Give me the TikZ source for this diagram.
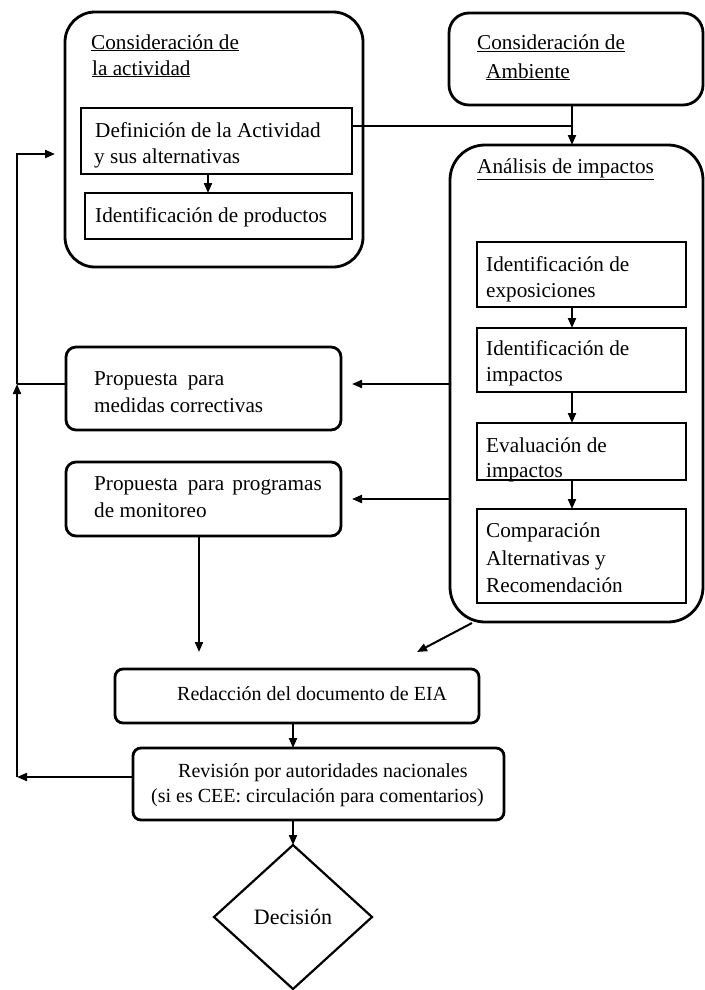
\documentclass[tikz,border=0pt]{standalone}
\usepackage{fontspec}
\setmainfont{Liberation Serif}
\usetikzlibrary{arrows.meta,shapes.geometric}
\begin{document}
\begin{tikzpicture}[x=1pt,y=-1pt,
  every node/.style={font=\fontsize{21.2}{26}\selectfont},
  bigbox/.style={draw,line width=2.8pt,rounded corners=#1,inner sep=0pt,outer sep=0pt},
  bigbox/.default=30pt,
  inbox/.style={draw,line width=1.3pt,inner sep=0pt,outer sep=0pt},
  txt/.style={anchor=base west,inner sep=0pt},
  smtxt/.style={anchor=base west,inner sep=0pt,font=\fontsize{20}{25}\selectfont},
  arr/.style={line width=2pt,-{Triangle[length=10pt,width=8pt]}},
  ln/.style={line width=1.5pt}]
\useasboundingbox (0,0) rectangle (704,990);

% boxes
\node[bigbox=30pt,minimum width=298pt,minimum height=255pt] (A) at (214,139.5) {};
\node[inbox,minimum width=271pt,minimum height=66pt] (A1) at (216.5,141) {};
\node[inbox,minimum width=267pt,minimum height=46pt] (A2) at (218.5,216) {};
\node[bigbox=20pt,minimum width=254pt,minimum height=92pt] (B) at (576,59) {};
\node[bigbox=35pt,minimum width=253pt,minimum height=477pt] (C) at (576.5,383.5) {};
\node[inbox,minimum width=209pt,minimum height=65pt] (C1) at (581.5,274.5) {};
\node[inbox,minimum width=209pt,minimum height=64pt] (C2) at (581.5,360) {};
\node[inbox,minimum width=209pt,minimum height=57pt] (C3) at (581.5,451.5) {};
\node[inbox,minimum width=209pt,minimum height=94pt] (C4) at (581.5,556) {};
\node[bigbox=10pt,minimum width=275pt,minimum height=83pt] (P1) at (203.5,388.5) {};
\node[bigbox=10pt,minimum width=275pt,minimum height=74pt] (P2) at (203.5,499) {};
\node[bigbox=8pt,minimum width=364pt,minimum height=54pt] (R) at (297,696) {};
\node[bigbox=8pt,minimum width=371pt,minimum height=72pt] (V) at (318.5,784) {};
\node[draw,diamond,line width=2.2pt,minimum width=158pt,minimum height=144pt,inner sep=0pt,outer sep=0pt,font=\fontsize{22}{26}\selectfont] (D) at (293,917) {Decisión};

% texts
\node[txt] (tA1) at (91,49) {\underline{Consideración de}};
\node[txt] (tA2) at (92,75) {\underline{la actividad}};
\node[txt] (tA1a) at (95,137) {Definición de la Actividad};
\node[txt] (tA1b) at (94,163) {y sus alternativas};
\node[txt] (tA2a) at (95,222) {Identificación de productos};
\node[txt] (tB1) at (477,50) {\underline{Consideración de}};
\node[txt] (tB2) at (486,78) {\underline{Ambiente}};
\node[txt] (tC) at (477,173) {\underline{Análisis de impactos}};
\node[txt] (tC1a) at (486,271) {Identificación de};
\node[txt] (tC1b) at (486,297) {exposiciones};
\node[txt] (tC2a) at (486,355) {Identificación de};
\node[txt] (tC2b) at (486,381) {impactos};
\node[txt] (tC3a) at (486,452) {Evaluación de};
\node[txt] (tC3b) at (486,477) {impactos};
\node[txt] (tC4a) at (486,537) {Comparación};
\node[txt] (tC4b) at (486,565) {Alternativas y};
\node[txt] (tC4c) at (486,592) {Recomendación};
\node[txt] (tP1a) at (94,385) {Propuesta\hspace{10pt}para};
\node[txt] (tP1b) at (94,412) {medidas correctivas};
\node[txt] (tP2a) at (94,490) {Propuesta\hspace{10pt}para\hspace{8pt}programas};
\node[txt] (tP2b) at (94,517) {de monitoreo};
\node[smtxt] (tR) at (177,700) {Redacción del documento de EIA};
\node[smtxt] (tV1) at (178,777) {Revisión por autoridades nacionales};
\node[smtxt] (tV2) at (151,802) {(si es CEE: circulación para comentarios)};

% coordinates
\coordinate (j1) at (572,126);
\coordinate (t0) at (55,154);
\coordinate (fb3) at (17,154);
\coordinate (fb1) at (17,384);
\coordinate (fb2) at (17,777);
\coordinate (t1) at (352,384);
\coordinate (t2) at (352,499);
\coordinate (t3) at (199,652);
\coordinate (c1) at (472,623);
\coordinate (t4) at (417,652);

% connectors
\draw[arr] (A1.south -| 208,0) -- (A2.north -| 208,0);
\draw[ln] (A1.east |- j1) -- (j1);
\draw[arr] (B.south -| j1) -- (C.north -| j1);
\draw[arr] (C1.south -| j1) -- (C2.north -| j1);
\draw[arr] (C2.south -| j1) -- (C3.north -| j1);
\draw[arr] (C3.south -| j1) -- (C4.north -| j1);
\draw[arr] (C.west |- t1) -- (t1);
\draw[arr] (C.west |- t2) -- (t2);
\draw[ln] (P1.west |- fb1) -- (fb1);
\draw[arr] (V.west |- fb2) -- (fb2);
\draw[arr] (fb2) -- (fb1);
\draw[arr] (fb1) -- (fb3) -- (t0);
\draw[arr] (P2.south -| t3) -- (t3);
\draw[arr] (c1) -- (t4);
\draw[arr] (R.south -| D.north) -- (V.north -| D.north);
\draw[arr] (V.south -| D.north) -- (D.north);
\end{tikzpicture}
\end{document}
